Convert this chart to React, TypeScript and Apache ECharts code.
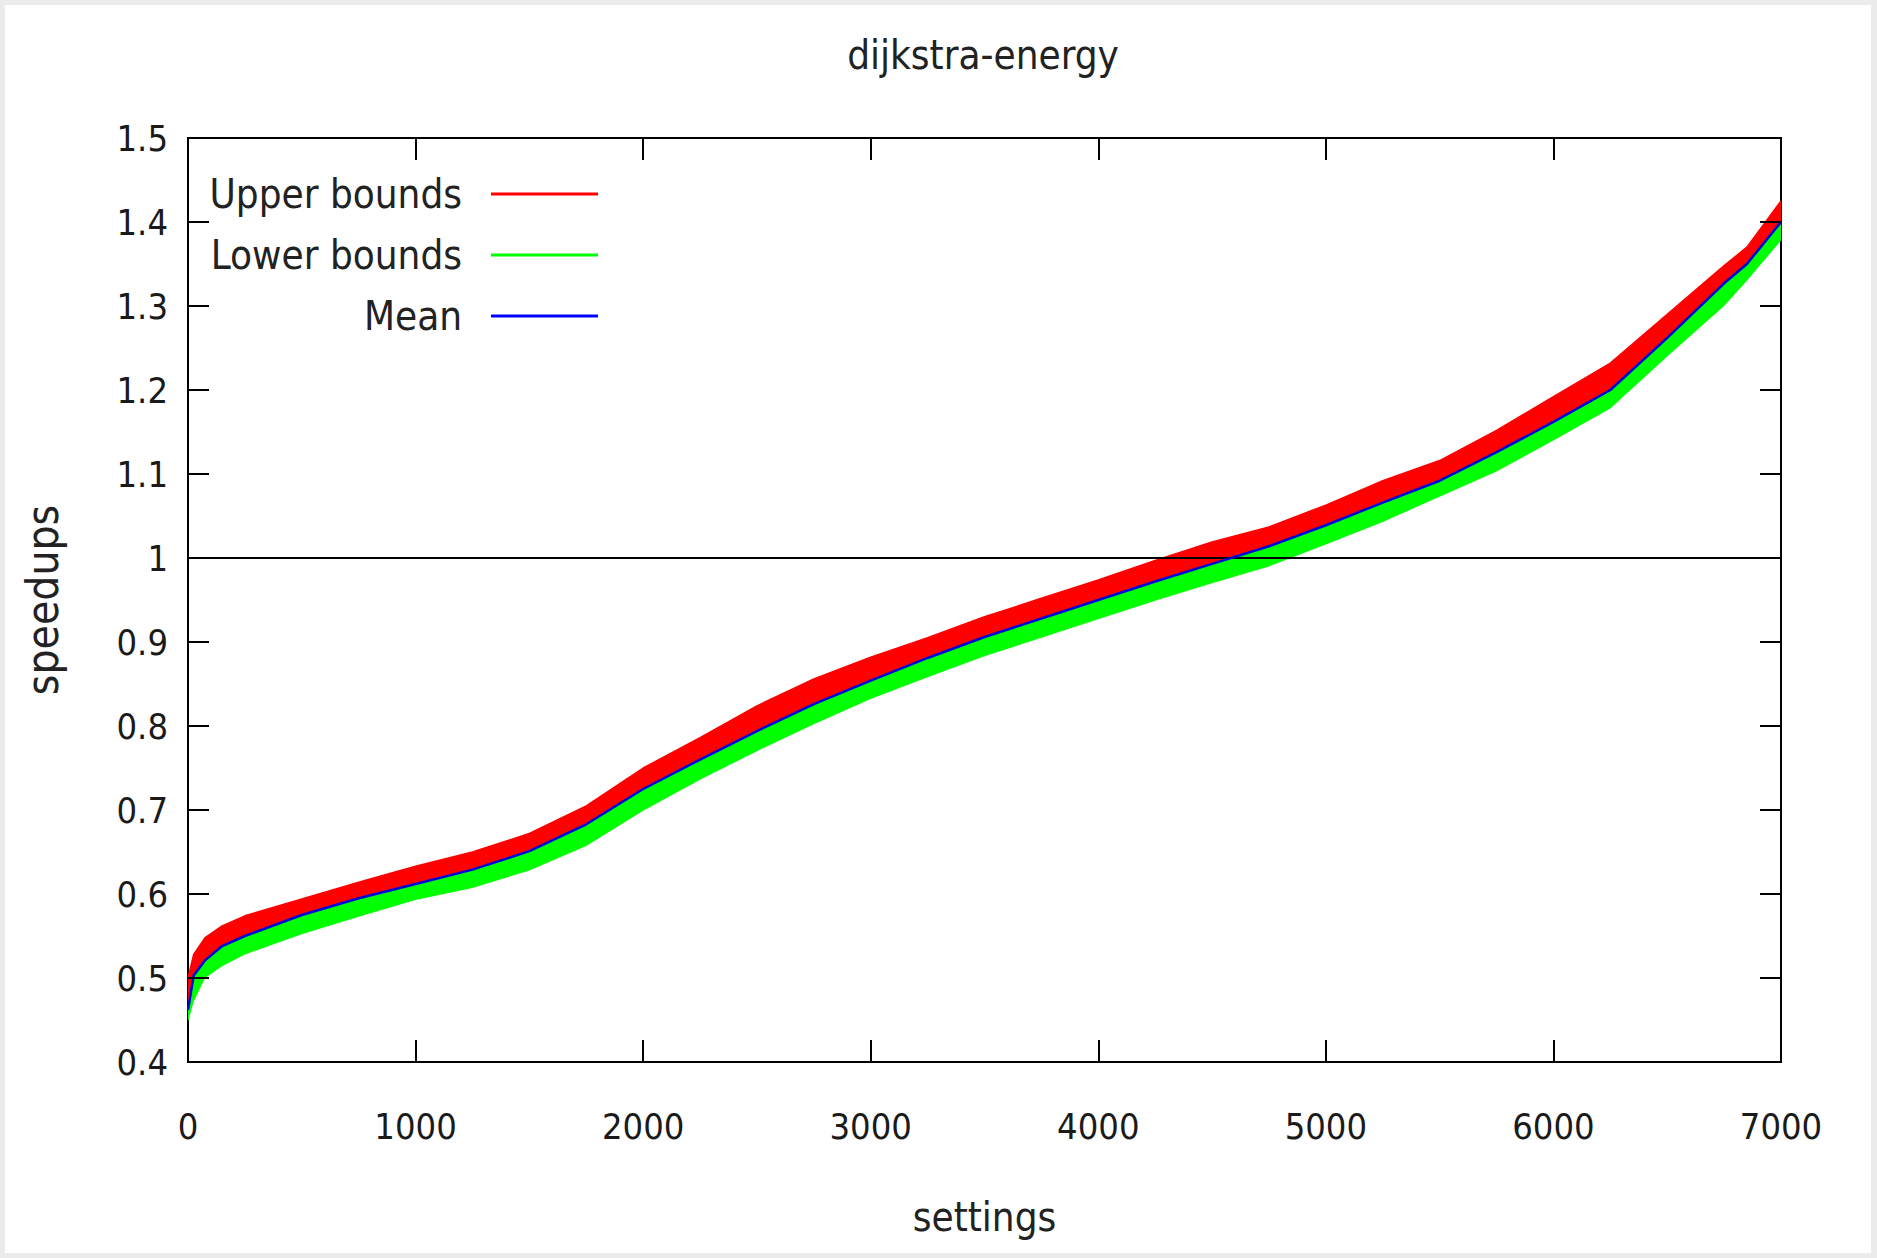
import React, { useEffect, useRef } from "react";
import * as echarts from "echarts";

// ---- data ----
const settingsX = [
  0, 25, 75, 150, 250, 500, 750, 1000, 1250, 1500, 1750, 2000, 2250, 2500, 2750,
  3000, 3250, 3500, 3750, 4000, 4250, 4500, 4750, 5000, 5250, 5500, 5750, 6000,
  6250, 6500, 6750, 6850, 7000,
];
const meanValues = [
  0.462, 0.503, 0.521, 0.538, 0.55, 0.575, 0.595, 0.612, 0.629, 0.651, 0.683,
  0.725, 0.76, 0.794, 0.826, 0.854, 0.881, 0.906, 0.928, 0.95, 0.972, 0.993,
  1.014, 1.039, 1.066, 1.092, 1.126, 1.162, 1.2, 1.262, 1.327, 1.35, 1.4,
];
const upperValues = [
  0.5, 0.528, 0.548, 0.562, 0.574, 0.594, 0.614, 0.633, 0.65, 0.672, 0.705,
  0.75, 0.786, 0.824, 0.856, 0.882, 0.905, 0.93, 0.952, 0.974, 0.997, 1.019,
  1.037, 1.063, 1.092, 1.116, 1.152, 1.192, 1.232, 1.29, 1.348, 1.37, 1.425,
];
const lowerValues = [
  0.448, 0.472, 0.5, 0.514, 0.528, 0.552, 0.573, 0.593, 0.607, 0.628, 0.657,
  0.699, 0.736, 0.77, 0.802, 0.832, 0.858, 0.883, 0.905, 0.927, 0.949, 0.97,
  0.99, 1.016, 1.043, 1.073, 1.103, 1.14, 1.178, 1.24, 1.3, 1.33, 1.378,
];
const xTicks = [0, 1000, 2000, 3000, 4000, 5000, 6000, 7000];
const yTicks = [0.4, 0.5, 0.6, 0.7, 0.8, 0.9, 1.0, 1.1, 1.2, 1.3, 1.4, 1.5];
const referenceLevel = 1;
const legendNames = ["Upper bounds", "Lower bounds", "Mean"];
const titleText = "dijkstra-energy";
const xName = "settings";
const yName = "speedups";

const TICK_FONT = "'DejaVu Sans Condensed', 'Liberation Sans Narrow', sans-serif";
const TEXT_FONT = "'DejaVu Sans Condensed', 'DejaVu Sans', sans-serif";

export default function App() {
  const ref = useRef<HTMLDivElement>(null);

  useEffect(() => {
    if (!ref.current) return;
    const chart = echarts.init(ref.current, undefined, { renderer: "svg" });

    // rows are [value, setting] so that stacking happens on the value (y) dimension
    const rows = (ys: number[]) => settingsX.map((x, i) => [ys[i], x]);
    const diffRows = (a: number[], b: number[]) =>
      settingsX.map((x, i) => [+(a[i] - b[i]).toFixed(4), x]);
    const enc = { x: 1, y: 0 };

    const xMin = xTicks[0];
    const xMax = xTicks[xTicks.length - 1];
    const xInterval = xTicks[1] - xTicks[0];
    const yMin = yTicks[0];
    const yMax = yTicks[yTicks.length - 1];
    const yInterval = +(yTicks[1] - yTicks[0]).toFixed(4);

    const tickStyle = { color: "#000", width: 2 };
    const innerTicks = (length: number) => ({
      show: true,
      inside: true,
      length,
      lineStyle: tickStyle,
    });
    const hiddenLine = { show: false, onZero: false };

    const option: any = {
      animation: false,
      backgroundColor: "#ebebeb",
      title: {
        text: titleText,
        left: 978,
        top: 30,
        textAlign: "center",
        textStyle: {
          fontFamily: TEXT_FONT,
          fontSize: 40,
          fontWeight: "normal",
          color: "#222",
        },
      },
      graphic: [
        {
          type: "rect",
          z: -10,
          silent: true,
          shape: { x: 5, y: 5, width: 1866, height: 1248 },
          style: { fill: "#ffffff" },
        },
      ],
      legend: {
        data: legendNames,
        orient: "vertical",
        align: "right",
        right: 1279,
        top: 172,
        padding: 0,
        itemGap: 17,
        itemWidth: 107,
        itemHeight: 3,
        icon: "rect",
        selectedMode: false,
        itemStyle: { borderWidth: 0 },
        textStyle: {
          fontFamily: TEXT_FONT,
          fontSize: 40,
          color: "#222",
          lineHeight: 44,
          padding: [0, 24, 0, 0],
        },
      },
      grid: {
        left: 188,
        top: 138,
        width: 1593,
        height: 924,
        show: true,
        borderColor: "#000",
        borderWidth: 2,
        backgroundColor: "#fff",
        containLabel: false,
        outerBoundsMode: "none",
      },
      xAxis: [
        {
          type: "value",
          position: "bottom",
          min: xMin,
          max: xMax,
          interval: xInterval,
          name: xName,
          nameLocation: "middle",
          nameGap: 135,
          nameTextStyle: { fontFamily: TEXT_FONT, fontSize: 40, color: "#222" },
          axisLine: hiddenLine,
          axisTick: innerTicks(22),
          axisLabel: {
            margin: 46,
            fontFamily: TICK_FONT,
            fontSize: 36,
            color: "#1a1a1a",
            formatter: (v: number) => String(v),
          },
          splitLine: { show: false },
          z: 6,
        },
        {
          type: "value",
          position: "top",
          min: xMin,
          max: xMax,
          interval: xInterval,
          axisLine: hiddenLine,
          axisTick: innerTicks(22),
          axisLabel: { show: false },
          splitLine: { show: false },
          z: 6,
        },
      ],
      yAxis: [
        {
          type: "value",
          position: "left",
          min: yMin,
          max: yMax,
          interval: yInterval,
          name: yName,
          nameLocation: "middle",
          nameGap: 124,
          nameTextStyle: { fontFamily: TEXT_FONT, fontSize: 44, color: "#222" },
          axisLine: hiddenLine,
          axisTick: innerTicks(21),
          axisLabel: {
            margin: 20,
            fontFamily: TICK_FONT,
            fontSize: 36,
            color: "#1a1a1a",
            formatter: (v: number) => String(parseFloat(v.toFixed(1))),
          },
          splitLine: { show: false },
          z: 6,
        },
        {
          type: "value",
          position: "right",
          min: yMin,
          max: yMax,
          interval: yInterval,
          axisLine: hiddenLine,
          axisTick: innerTicks(21),
          axisLabel: { show: false },
          splitLine: { show: false },
          z: 6,
        },
      ],
      series: [
        {
          name: "upper-base",
          type: "line",
          stack: "upper",
          data: rows(meanValues),
          encode: enc,
          symbol: "none",
          silent: true,
          color: "#ff0000",
          lineStyle: { opacity: 0 },
          z: 2,
        },
        {
          name: legendNames[0],
          type: "line",
          stack: "upper",
          data: diffRows(upperValues, meanValues),
          encode: enc,
          symbol: "none",
          silent: true,
          color: "#ff0000",
          lineStyle: { width: 1.5, color: "#ff0000" },
          areaStyle: { color: "#ff0000", opacity: 1 },
          z: 2,
        },
        {
          name: "lower-base",
          type: "line",
          stack: "lower",
          data: rows(lowerValues),
          encode: enc,
          symbol: "none",
          silent: true,
          color: "#00ff00",
          lineStyle: { opacity: 0 },
          z: 3,
        },
        {
          name: legendNames[1],
          type: "line",
          stack: "lower",
          data: diffRows(meanValues, lowerValues),
          encode: enc,
          symbol: "none",
          silent: true,
          color: "#00ff00",
          lineStyle: { width: 1.5, color: "#00ff00" },
          areaStyle: { color: "#00ff00", opacity: 1 },
          z: 3,
        },
        {
          name: legendNames[2],
          type: "line",
          data: rows(meanValues),
          encode: enc,
          symbol: "none",
          silent: true,
          color: "#0000ff",
          lineStyle: { width: 2.5, color: "#0000dd" },
          z: 5,
          markLine: {
            silent: true,
            symbol: "none",
            label: { show: false },
            lineStyle: { color: "#000", width: 2, type: "solid" },
            data: [{ yAxis: referenceLevel }],
          },
        },
      ],
    };

    chart.setOption(option);
    return () => chart.dispose();
  }, []);

  return (
    <div
      ref={ref}
      style={{ position: "absolute", left: 0, top: 0, width: 1877, height: 1258 }}
    />
  );
}
